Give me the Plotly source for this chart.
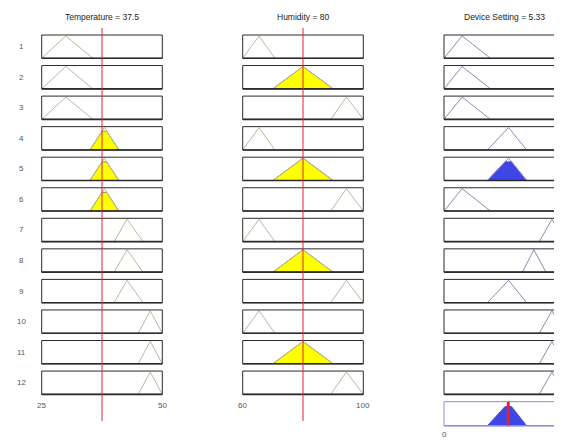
import plotly.graph_objects as go

# ---------------- data ----------------
temp_range = [25, 50]
hum_range = [60, 100]
out_range = [0, 10]

temp_value = 37.5
hum_value = 80
out_value = 5.33

# triangular membership functions [a, b, c]
temp_low = [25, 30, 35.6]
temp_medium = [35, 38, 41]
temp_high = [40, 42.7, 46]
temp_veryhigh = [45, 47.5, 50]

hum_low = [60, 65.4, 70.7]
hum_medium = [70, 80, 90]
hum_high = [89.2, 94.4, 100]

out_low = [0, 1.5, 3.85]
out_medium = [3.6, 5.35, 6.85]
out_medhigh = [6.5, 7.45, 8.45]
out_high = [7.9, 8.95, 10]

temp_mfs = [temp_low, temp_medium, temp_high, temp_veryhigh]
hum_mfs = [hum_low, hum_medium, hum_high]
out_mfs = [out_low, out_medium, out_medhigh, out_high]

# rule table (indices into the mf lists)
rule_temp = [0, 0, 0, 1, 1, 1, 2, 2, 2, 3, 3, 3]
rule_hum = [0, 1, 2, 0, 1, 2, 0, 1, 2, 0, 1, 2]
rule_out = [0, 0, 0, 1, 1, 0, 3, 2, 1, 3, 3, 3]
row_labels = ["1", "2", "3", "4", "5", "6", "7", "8", "9", "10", "11", "12"]

titles = ["Temperature = 37.5", "Humidity = 80", "Device Setting = 5.33"]

# ---------------- layout geometry ----------------
OFF = 8                      # page body margin
W, H = 562 - OFF, 445 - OFF  # visible figure size


def px(x):
    return (x - OFF) / W


def py(y):
    return 1 - (y - OFF) / H


col_left = [41.7, 242.7, 444.0]
col_w = 120.6
row_top0 = 35.0
row_pitch = 30.55
row_h = 23.3
agg_top = 401.7
agg_h = 24.0
YMAX = 1.04

IN_MF = "#bdb59c"
OUT_MF = "#8a8ab8"
BOX = "#2a2a2a"
YELLOW = "#ffff00"
YEDGE = "#7a7a30"
BLUE = "#3f46e6"
RED = "#e8202c"
FONT = "Liberation Sans Narrow, Liberation Sans, Arial"


def trimf(p, x):
    a, b, c = p
    if x <= a or x >= c:
        return 0.0
    if x <= b:
        return (x - a) / (b - a) if b > a else 1.0
    return (c - x) / (c - b) if c > b else 1.0


def clipped(p, h):
    a, b, c = p
    return [a, a + h * (b - a), c - h * (c - b), c, a], [0, h, h, 0, 0]


fig = go.Figure()
layout = dict(
    width=W, height=H, margin=dict(l=0, r=0, t=0, b=0),
    paper_bgcolor="white", plot_bgcolor="rgba(255,255,255,0)",
    showlegend=False, shapes=[], annotations=[],
)

ranges = [temp_range, hum_range, out_range]
n = 0
axis_of = {}


def add_axes(col, top, height, boxcolor=BOX):
    global n
    n += 1
    left = col_left[col]
    rng = list(ranges[col])
    x0 = px(left)
    x1 = px(left + col_w)
    if x1 > 1:
        rng = [rng[0], rng[0] + (rng[1] - rng[0]) * (562 - left) / col_w]
        x1 = 1.0
    layout[f"xaxis{n}"] = dict(domain=[x0, x1], range=rng, visible=False,
                               fixedrange=True, anchor=f"y{n}")
    layout[f"yaxis{n}"] = dict(domain=[py(top + height), py(top)], range=[0, YMAX],
                               visible=False, fixedrange=True, anchor=f"x{n}")
    layout["shapes"].append(dict(type="rect", xref="paper", yref="paper",
                                 x0=px(left), x1=px(left + col_w),
                                 y0=py(top + height), y1=py(top),
                                 line=dict(color=boxcolor, width=1), layer="above"))
    layout["shapes"].append(dict(type="line", xref="paper", yref="paper",
                                 x0=px(left), x1=px(left + col_w),
                                 y0=py(top + height), y1=py(top + height),
                                 line=dict(color=boxcolor, width=1.6), layer="above"))
    return n


def mf_line(k, p, color):
    fig.add_trace(go.Scatter(x=[p[0], p[1], p[2]], y=[0, 1, 0], mode="lines",
                             line=dict(color=color, width=1), xaxis=f"x{k}", yaxis=f"y{k}",
                             cliponaxis=False, hoverinfo="skip"))


def fill_poly(k, p, h, color, edge):
    xs, ys = clipped(p, h)
    fig.add_trace(go.Scatter(x=xs, y=ys, mode="lines", fill="toself", fillcolor=color,
                             line=dict(color=edge, width=0.8), xaxis=f"x{k}", yaxis=f"y{k}",
                             cliponaxis=False, hoverinfo="skip"))


firing = []
for r in range(12):
    top = row_top0 + r * row_pitch
    mu_t = trimf(temp_mfs[rule_temp[r]], temp_value)
    mu_h = trimf(hum_mfs[rule_hum[r]], hum_value)
    w = min(mu_t, mu_h)
    firing.append(w)

    k = add_axes(0, top, row_h)
    if r == 0:
        axis_of[0] = k
    if mu_t > 0:
        fill_poly(k, temp_mfs[rule_temp[r]], mu_t, YELLOW, YEDGE)
    mf_line(k, temp_mfs[rule_temp[r]], IN_MF)

    k = add_axes(1, top, row_h)
    if r == 0:
        axis_of[1] = k
    if mu_h > 0:
        fill_poly(k, hum_mfs[rule_hum[r]], mu_h, YELLOW, YEDGE)
    mf_line(k, hum_mfs[rule_hum[r]], IN_MF)

    k = add_axes(2, top, row_h)
    if w > 0:
        fill_poly(k, out_mfs[rule_out[r]], w, BLUE, BLUE)
    mf_line(k, out_mfs[rule_out[r]], OUT_MF)

    layout["annotations"].append(dict(text=row_labels[r], xref="paper", yref="paper",
                                      x=px(22), y=py(top + row_h / 2), showarrow=False,
                                      font=dict(size=8, color="#555555", family=FONT),
                                      xanchor="center", yanchor="middle"))

# aggregated output
k = add_axes(2, agg_top, agg_h, boxcolor="#8c8cd8")
for r in range(12):
    if firing[r] > 0:
        fill_poly(k, out_mfs[rule_out[r]], firing[r], BLUE, BLUE)
layout["shapes"].append(dict(type="line", xref=f"x{k}", yref=f"y{k}", x0=out_value, x1=out_value,
                             y0=0, y1=YMAX, line=dict(color=RED, width=3), layer="above"))

# red input lines
for col, val in [(0, temp_value), (1, hum_value)]:
    layout["shapes"].append(dict(type="line", xref=f"x{axis_of[col]}", yref="paper",
                                 x0=val, x1=val, y0=py(421), y1=py(28),
                                 line=dict(color=RED, width=1), layer="above"))

# titles
title_font = dict(size=8.5, color="#222222", family=FONT)
for col in range(3):
    layout["annotations"].append(dict(text=titles[col], xref="paper", yref="paper",
                                      x=px(col_left[col] + col_w / 2), y=py(17), showarrow=False,
                                      font=title_font, xanchor="center", yanchor="middle"))

# range tick labels
tick_font = dict(size=8, color="#555555", family=FONT)
ticks = [(0, temp_range, 405), (1, hum_range, 405), (2, out_range, 434)]
for col, rng, yy in ticks:
    for i, v in enumerate(rng):
        layout["annotations"].append(dict(text=str(v), xref="paper", yref="paper",
                                          x=px(col_left[col] + i * col_w), y=py(yy), showarrow=False,
                                          font=tick_font, xanchor="center", yanchor="middle"))

fig.update_layout(**layout)
fig.write_html("out.html")
